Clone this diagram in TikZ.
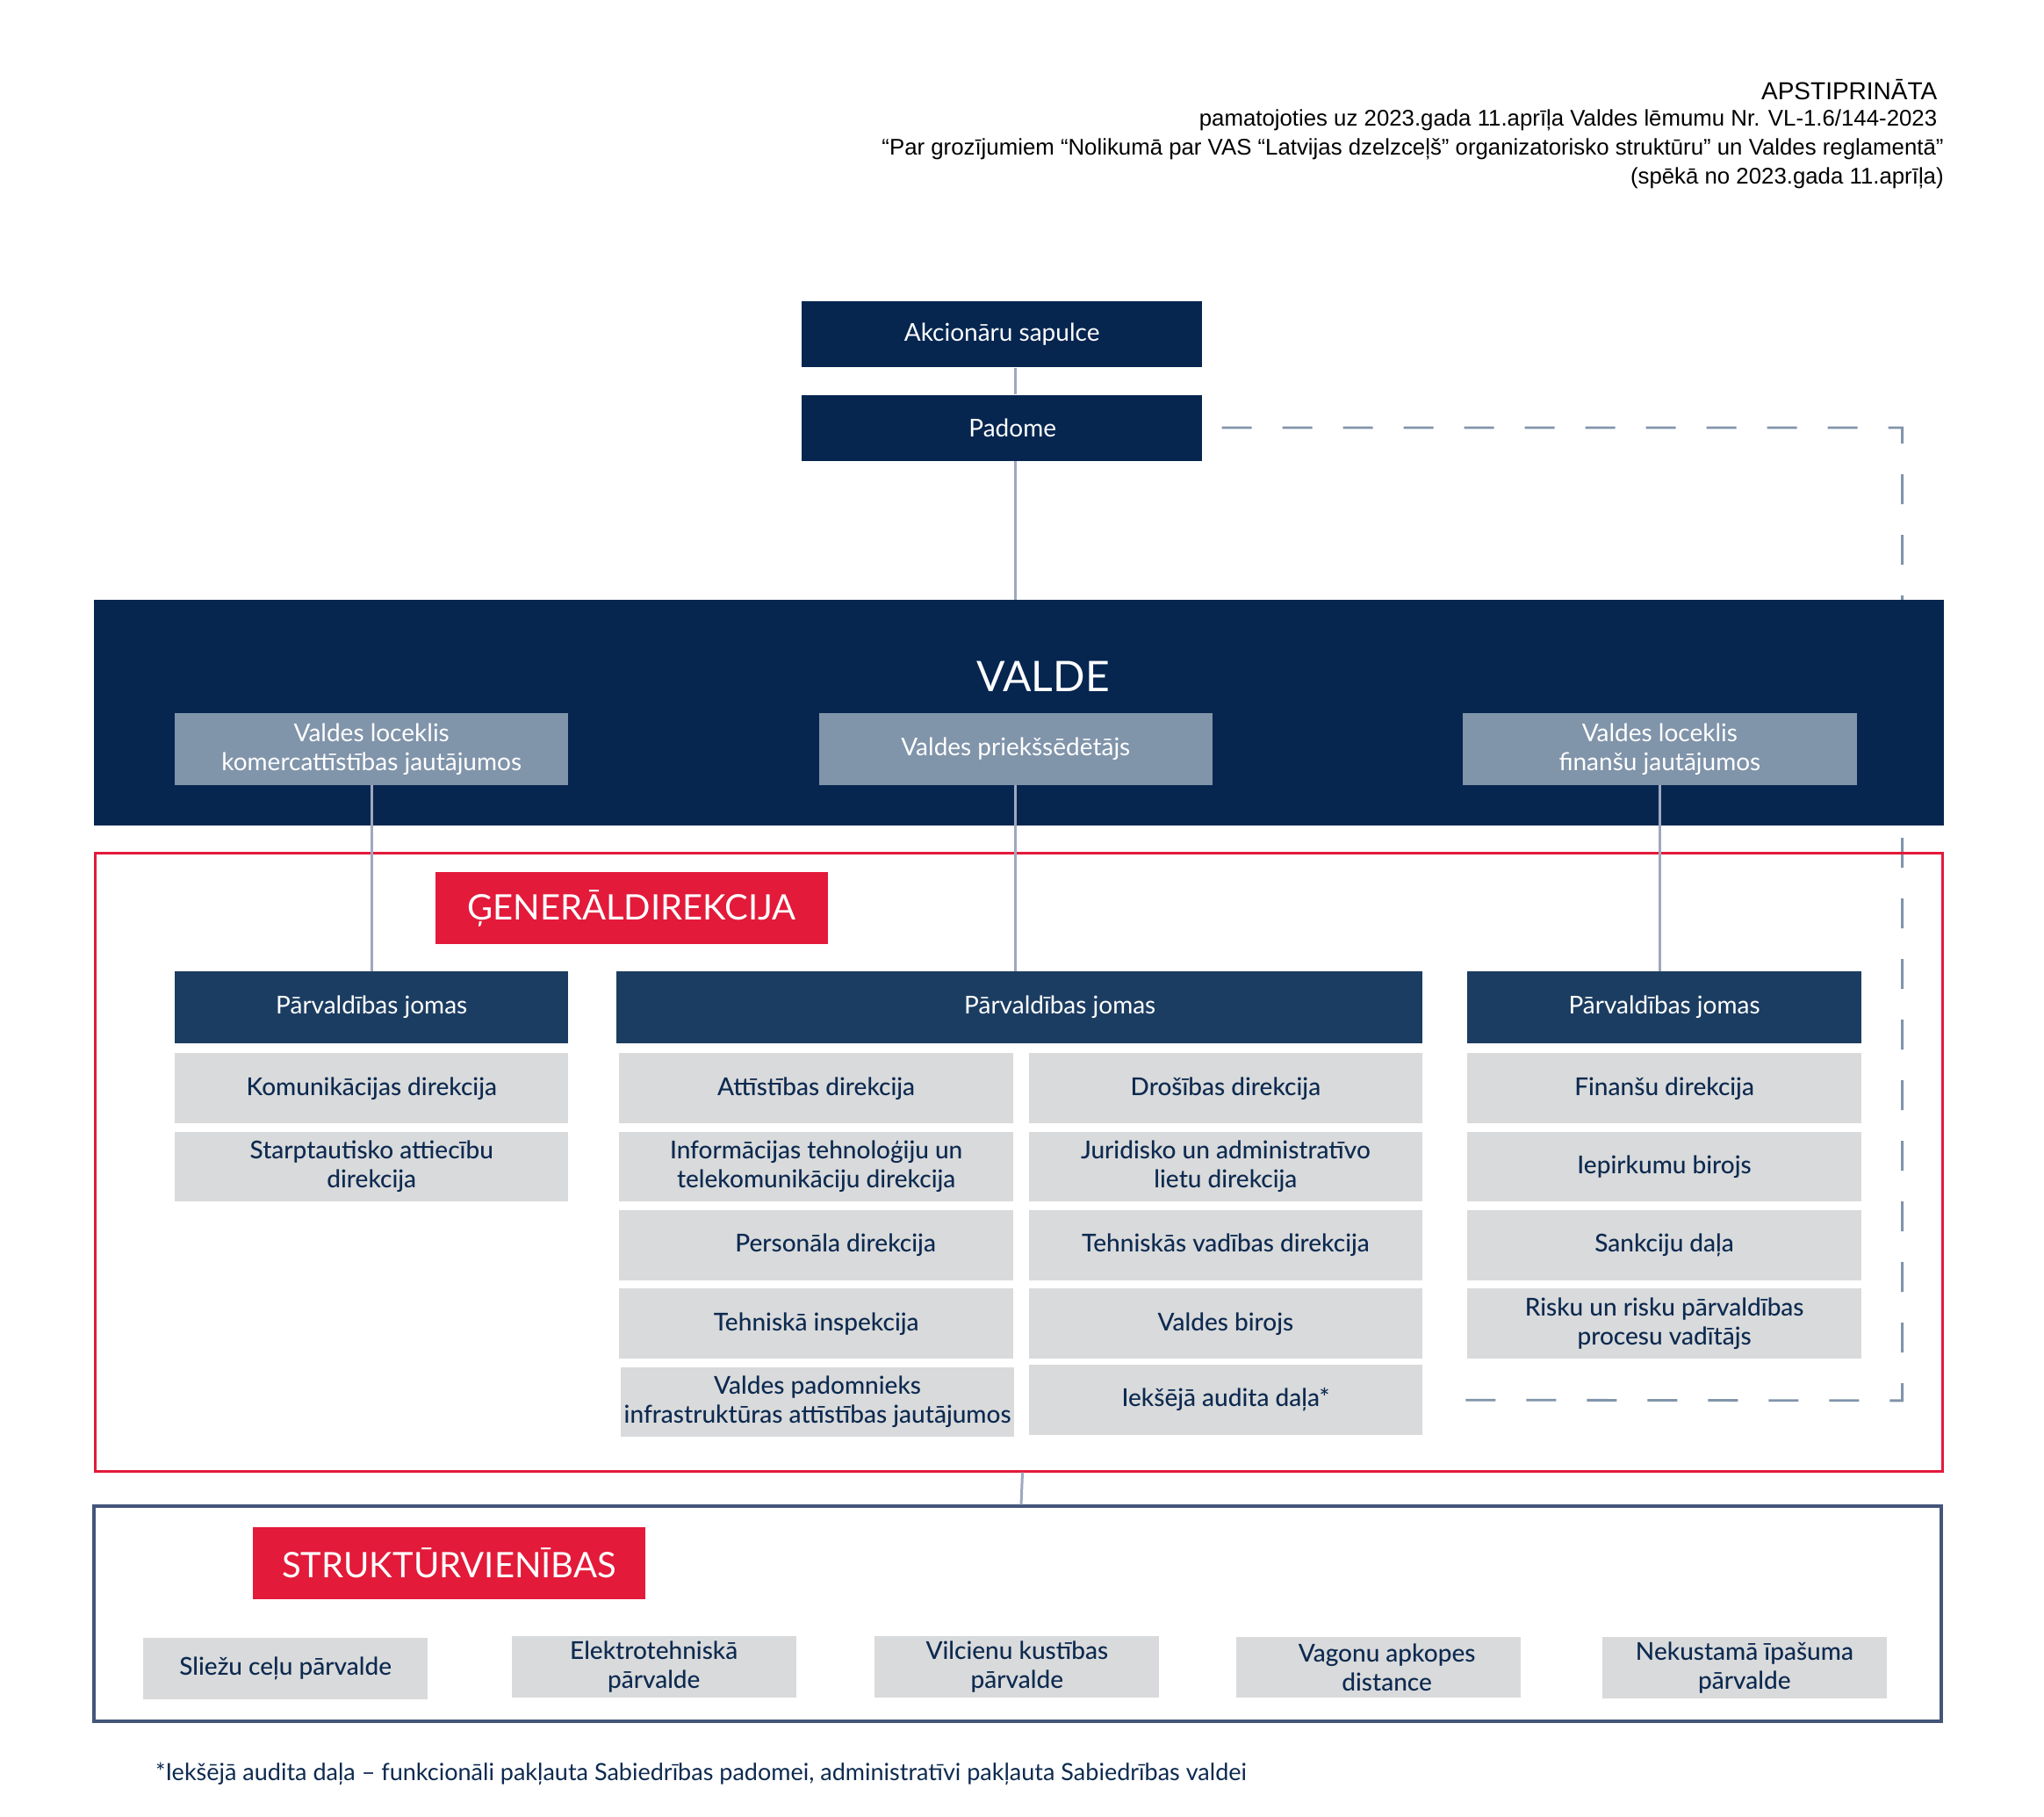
\documentclass[tikz,border=0pt]{standalone}
\usepackage{fontspec}
\setmainfont{Lato}
\newfontfamily\medfont{Lato Medium}
\newfontfamily\arialfont{Liberation Sans}
\usetikzlibrary{positioning}
\pgfdeclarelayer{background}
\pgfsetlayers{background,main}
\definecolor{navy}{HTML}{062650}
\definecolor{jomasblue}{HTML}{1C3D62}
\definecolor{slate}{HTML}{8094AA}
\definecolor{boxgrey}{HTML}{D9DADB}
\definecolor{textnavy}{HTML}{0D2A50}
\definecolor{ldred}{HTML}{E31A3A}
\definecolor{linkgrey}{HTML}{9FA8BF}
\definecolor{dashgrey}{HTML}{8194AA}
\definecolor{frameblue}{HTML}{44557A}
\tikzstyle{unit}=[rectangle,fill=boxgrey,text=textnavy,align=center,inner sep=0pt,minimum width=224.2pt,minimum height=39.8pt,font=\medfont\fontsize{14}{16.5}\selectfont]
\tikzstyle{top unit}=[unit,fill=navy,text=white,minimum width=228pt,minimum height=37.5pt,font=\fontsize{14}{16.5}\selectfont]
\tikzstyle{board member}=[unit,fill=slate,text=white,minimum height=40.8pt,font=\fontsize{14}{16.5}\selectfont]
\tikzstyle{jomas}=[unit,fill=jomasblue,text=white,minimum height=40.8pt,font=\fontsize{14}{16.5}\selectfont]
\tikzstyle{subunit}=[unit,minimum width=161.9pt,minimum height=34.9pt]
\tikzstyle{tag}=[unit,fill=ldred,text=white,minimum width=223.5pt,minimum height=40.8pt,font=\fontsize{20}{24}\selectfont]
\tikzstyle{frame}=[rectangle,inner sep=0pt,minimum width=1052.1pt]
\tikzstyle{header}=[anchor=east,inner sep=0pt,font=\arialfont\fontsize{12.9}{16}\selectfont]
\tikzstyle{link}=[draw=linkgrey,line width=1.5pt]
\tikzstyle{dashlink}=[draw=dashgrey,line width=1.4pt,dash pattern=on 17pt off 17.5pt]

\begin{document}
\begin{tikzpicture}[x=0.7425pt,y=-0.7425pt]
    \useasboundingbox (0,0) rectangle (1567.7,1392.9);
    % approval note
    \node[header,font=\arialfont\fontsize{14}{16}\selectfont] (apst) at (1486,69) {APSTIPRINĀTA};
    \node[header] (note1) at (1486,92.5) {pamatojoties uz 2023.gada 11.aprīļa Valdes lēmumu Nr. VL-1.6/144-2023};
    \node[header] (note2) at (1491,114.5) {“Par grozījumiem “Nolikumā par VAS “Latvijas dzelzceļš” organizatorisko struktūru” un Valdes reglamentā”};
    \node[header] (note3) at (1491,136.5) {(spēkā no 2023.gada 11.aprīļa)};

    % shareholders and council
    \node[top unit] (ak) at (768.5,256.5) {Akcionāru sapulce};
    \node[top unit] (pad) at (768.5,328) {\hspace*{12pt}Padome};

    % board
    \node[rectangle,fill=navy,inner sep=0pt,minimum width=1053.6pt,minimum height=128.5pt] (valde) at (781.5,546.5) {};
    \node[text=white,font=\fontsize{24}{28}\selectfont] (valdetitle) at (800,519) {VALDE};
    \node[board member] (vl) at (285,574.5) {Valdes loceklis\\komercattīstības jautājumos};
    \node[board member] (vp) at (779,574.5) {Valdes priekšsēdētājs};
    \node[board member] (vr) at (1273,574.5) {Valdes loceklis\\finanšu jautājumos};

    % general directorate
    \node[frame,draw=ldred,line width=1.5pt,minimum height=351.9pt] (gd) at (781.5,891) {};
    \node[tag] (gdtag) at (484.5,696.5) {ĢENERĀLDIREKCIJA};
    \node[jomas] (jl) at (285,772.5) {Pārvaldības jomas};
    \node[jomas,minimum width=458.9pt] (jm) at (782,772.5) {\hspace*{46pt}Pārvaldības jomas};
    \node[jomas] (jr) at (1276.5,772.5) {Pārvaldības jomas};

    \foreach \pos/\name/\txt in {{(285,834.5)/kom/Komunikācijas direkcija}, {(285,894.5)/star/{Starptautisko attiecību\\direkcija}},
        {(626,834.5)/att/Attīstības direkcija}, {(626,894.5)/it/{Informācijas tehnoloģiju un\\telekomunikāciju direkcija}},
        {(626,955)/pers/\hspace*{22pt}Personāla direkcija}, {(626,1015)/insp/Tehniskā inspekcija},
        {(627,1075)/pad2/{Valdes padomnieks\\infrastruktūras attīstības jautājumos}},
        {(940,834.5)/dro/Drošības direkcija}, {(940,894.5)/jur/{Juridisko un administratīvo\\lietu direkcija}},
        {(940,955)/tvd/Tehniskās vadības direkcija}, {(940,1015)/bir/Valdes birojs},
        {(940,1073.5)/aud/Iekšējā audita daļa*},
        {(1276.5,834.5)/fin/Finanšu direkcija}, {(1276.5,894.5)/iep/Iepirkumu birojs},
        {(1276.5,955)/sank/Sankciju daļa}, {(1276.5,1015)/risk/{Risku un risku pārvaldības\\procesu vadītājs}}}
        \node[unit] (\name) at \pos {\txt};

    % structural units
    \node[frame,draw=frameblue,line width=1.8pt,minimum height=122.5pt] (sv) at (780.5,1237.5) {};
    \node[tag] (svtag) at (344.5,1198.5) {STRUKTŪRVIENĪBAS};
    \foreach \pos/\name/\txt in {{(219,1279.5)/slz/Sliežu ceļu pārvalde}, {(501.5,1278)/elt/{Elektrotehniskā\\pārvalde}},
        {(780,1278)/vlc/{Vilcienu kustības\\pārvalde}}, {(1057,1278.5)/vag/{\hspace*{10pt}Vagonu apkopes\\\hspace*{10pt}distance}},
        {(1338,1279)/nek/{Nekustamā īpašuma\\pārvalde}}}
        \node[subunit] (\name) at \pos {\txt};

    \node[anchor=west,inner sep=0pt,text=textnavy,font=\fontsize{13.5}{16}\selectfont] (foot) at (119,1360)
        {*Iekšējā audita daļa – funkcionāli pakļauta Sabiedrības padomei, administratīvi pakļauta Sabiedrības valdei};

    % Connect units with lines
    \draw[link] (ak.south -| vp) -- (pad.north -| vp);
    \draw[link] (pad.south -| vp) -- (valde.north -| vp);
    \draw[link] (vl.south) -- (jl.north);
    \draw[link] (vp.south) -- (vp.south |- jm.north);
    \draw[link] (vr.south) -- (vr.south |- jr.north);
    \draw[link] ([xshift=2pt]gd.south) -- ([xshift=2pt]sv.north);

    % audit reports to the council
    \coordinate (dc) at (1459,1074);
    \begin{pgfonlayer}{background}
        \draw[dashlink] ([xshift=11pt]pad.east) -| (dc) -- ([xshift=10.5pt]aud.east);
    \end{pgfonlayer}
\end{tikzpicture}
\end{document}
